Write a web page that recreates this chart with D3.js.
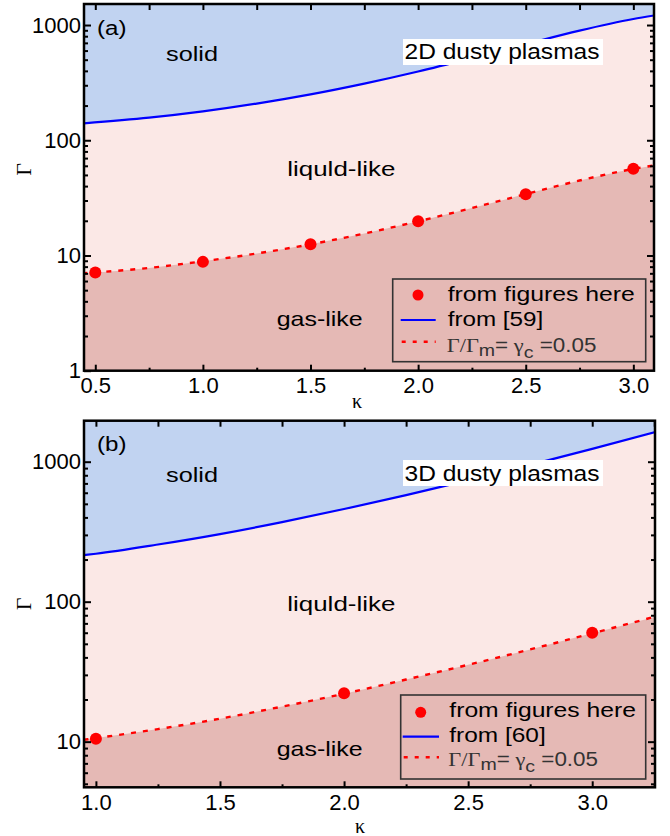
<!DOCTYPE html>
<html><head><meta charset="utf-8">
<script src="https://cdn.jsdelivr.net/npm/d3@7"></script>
<style>
body{margin:0;background:#fff}
svg{display:block}
text{font-family:"Liberation Sans",Arial,Helvetica,sans-serif;fill:#000}
</style>
</head><body>
<svg id="chart" width="670" height="836"></svg>
<script>
// ---------------- data ----------------
const kappa2D      = [0.44, 0.75, 1.0, 1.25, 1.5, 1.75, 2.0, 2.25, 2.5, 2.75, 3.0, 3.1];
const gammaMelt2D  = [140, 157, 178, 208, 250, 310, 395, 516, 682, 894, 1127, 1213];
const gammaGas2D   = [7.0, 7.8, 8.9, 10.4, 12.5, 15.5, 19.8, 25.8, 34.1, 44.7, 56.4, 60.6];
const kappaPts2D   = [0.5, 1.0, 1.5, 2.0, 2.5, 3.0];
const gammaPts2D   = [7.1, 8.8, 12.5, 19.8, 34, 56.5];

const kappa3D      = [0.95, 1.0, 1.25, 1.5, 1.75, 2.0, 2.25, 2.5, 2.75, 3.0, 3.26];
const gammaMelt3D  = [215, 220, 256, 304, 370, 459, 577, 736, 949, 1236, 1642];
const gammaGas3D   = [10.3, 10.6, 12.3, 14.6, 17.8, 22.0, 27.8, 35.4, 45.6, 59.4, 78.8];
const kappaPts3D   = [1.0, 2.0, 3.0];
const gammaPts3D   = [10.5, 22.2, 60];

const xTicks2D = [0.5, 1.0, 1.5, 2.0, 2.5, 3.0];
const xMinor2D = [0.75, 1.25, 1.75, 2.25, 2.75];
const xTicks3D = [1.0, 1.5, 2.0, 2.5, 3.0];
const xMinor3D = [1.25, 1.75, 2.25, 2.75, 3.25];
const yTicks2D = [1, 10, 100, 1000];
const yTicks3D = [10, 100, 1000];

const panelLabels   = ["(a)", "(b)"];
const regionLabels  = ["solid", "liquld-like", "gas-like"];
const titleLabels   = ["2D dusty plasmas", "3D dusty plasmas"];
const legendLabels2D = ["from figures here", "from [59]"];
const legendLabels3D = ["from figures here", "from [60]"];

// ---------------- style ----------------
const C = {
  solid: "#c1d3f1", liquid: "#fbe8e6", gas: "#e5b9b5",
  blue: "#0000ff", red: "#ff0000", axis: "#000", legendBox: "#333"
};

const svg = d3.select("#chart");

function addText(g, x, y, str, size, width, extra) {
  const t = g.append("text").attr("x", x).attr("y", y).text(str)
    .style("font-size", size + "px");
  if (width) t.attr("textLength", width).attr("lengthAdjust", "spacingAndGlyphs");
  if (extra) extra(t);
  return t;
}

function minorLog(domain) {
  const out = [];
  const lo = Math.floor(Math.log10(domain[0])), hi = Math.ceil(Math.log10(domain[1]));
  for (let k = lo; k <= hi; k++) for (let m = 2; m <= 9; m++) {
    const v = m * Math.pow(10, k);
    if (v > domain[0] && v < domain[1]) out.push(v);
  }
  return out;
}

function drawPanel(P) {
  const x = d3.scaleLinear().domain(P.xDomain).range([P.left, P.right]);
  const y = d3.scaleLog().domain(P.yDomain).range([P.bottom, P.top]);
  const g = svg.append("g");
  const clipId = "clip" + P.id;
  svg.append("defs").append("clipPath").attr("id", clipId)
    .append("rect").attr("x", P.left).attr("y", P.top)
    .attr("width", P.right - P.left).attr("height", P.bottom - P.top);

  const plot = g.append("g").attr("clip-path", `url(#${clipId})`);
  plot.append("rect").attr("x", P.left).attr("y", P.top)
    .attr("width", P.right - P.left).attr("height", P.bottom - P.top).attr("fill", C.liquid);

  const melt = P.kappa.map((k, i) => [k, P.melt[i]]);
  const gas = P.kappa.map((k, i) => [k, P.gas[i]]);
  const curve = d3.curveMonotoneX;

  plot.append("path").datum(melt).attr("fill", C.solid)
    .attr("d", d3.area().curve(curve).x(d => x(d[0])).y0(P.top).y1(d => y(d[1])));
  plot.append("path").datum(gas).attr("fill", C.gas)
    .attr("d", d3.area().curve(curve).x(d => x(d[0])).y0(P.bottom).y1(d => y(d[1])));
  plot.append("path").datum(melt).attr("fill", "none").attr("stroke", C.blue).attr("stroke-width", 2.2)
    .attr("d", d3.line().curve(curve).x(d => x(d[0])).y(d => y(d[1])));
  plot.append("path").datum(gas).attr("fill", "none").attr("stroke", C.red).attr("stroke-width", 2.4)
    .attr("stroke-dasharray", "5,7")
    .attr("d", d3.line().curve(curve).x(d => x(d[0])).y(d => y(d[1])));
  plot.selectAll("circle.pt").data(P.ptsK).join("circle").attr("class", "pt")
    .attr("cx", d => x(d)).attr("cy", (d, i) => y(P.ptsG[i])).attr("r", 6).attr("fill", C.red);

  // title box
  g.append("rect").attr("x", P.title.bx).attr("y", P.title.by).attr("width", 200).attr("height", 26).attr("fill", "#fff");
  addText(g, P.title.x, P.title.y, P.titleText, 22, 195);
  addText(g, 97, P.labY.panel, P.panelText, 20, 29.5);
  addText(g, 166, P.labY.solid, regionLabels[0], 20, 52);
  addText(g, 287.3, P.labY.liquid, regionLabels[1], 21, 108);
  addText(g, 276.7, P.labY.gas, regionLabels[2], 21, 86);

  // legend
  const L = P.legend;
  g.append("rect").attr("x", L.x).attr("y", L.y).attr("width", L.w).attr("height", L.h)
    .attr("fill", "none").attr("stroke", C.legendBox).attr("stroke-width", 1.6);
  g.append("circle").attr("cx", L.dotX).attr("cy", L.rows[0]).attr("r", 5.5).attr("fill", C.red);
  g.append("line").attr("x1", L.lx1).attr("x2", L.lx2).attr("y1", L.rows[1]).attr("y2", L.rows[1])
    .attr("stroke", C.blue).attr("stroke-width", 2.2);
  g.append("line").attr("x1", L.lx1 + 1).attr("x2", L.lx2).attr("y1", L.rows[2]).attr("y2", L.rows[2])
    .attr("stroke", C.red).attr("stroke-width", 2.4).attr("stroke-dasharray", "4,7");
  addText(g, L.tx, L.base[0], P.legendText[0], 19.5, L.w0);
  addText(g, L.tx, L.base[1], P.legendText[1], 19.5, L.w1);
  const t3 = g.append("text").attr("transform", `translate(${L.tx - 1},${L.base[2]}) scale(1.15,1)`)
    .style("font-size", "19.5px").style("fill", "#333");
  const serif = "'Liberation Serif','Times New Roman',serif";
  t3.append("tspan").text("\u0393/\u0393").style("font-family", serif).style("fill", "#333");
  t3.append("tspan").text("m").attr("dy", 4).style("font-size", "17px").style("fill", "#333");
  t3.append("tspan").text("=").attr("dy", -4).style("fill", "#333");
  t3.append("tspan").text(" \u03b3").style("font-family", serif).style("fill", "#333");
  t3.append("tspan").text("c").attr("dy", 6).style("font-size", "17px").style("fill", "#333");
  t3.append("tspan").text(" =0.05").attr("dy", -6).style("fill", "#333");

  // axes
  const ax = g.append("g");
  const fmtX = d3.format(".1f");
  ax.append("g").attr("transform", `translate(0,${P.bottom})`)
    .call(d3.axisBottom(x).tickValues(P.xTicks).tickSize(-6).tickPadding(7).tickFormat(fmtX));
  ax.append("g").attr("transform", `translate(0,${P.bottom})`)
    .call(d3.axisBottom(x).tickValues(P.xMinor).tickSize(-3).tickFormat(""));
  ax.append("g").attr("transform", `translate(0,${P.top})`)
    .call(d3.axisTop(x).tickValues(P.xTicks.concat(P.xMinor)).tickSize(-6).tickFormat(""));
  ax.append("g").attr("transform", `translate(${P.left},0)`)
    .call(d3.axisLeft(y).tickValues(P.yTicks).tickSize(-7).tickPadding(3).tickFormat(d3.format("d")));
  ax.append("g").attr("transform", `translate(${P.left},0)`)
    .call(d3.axisLeft(y).tickValues(minorLog(P.yDomain)).tickSize(-4).tickFormat(""));
  ax.append("g").attr("transform", `translate(${P.right},0)`)
    .call(d3.axisRight(y).tickValues(P.yTicks.filter(v => v > P.yDomain[0])).tickSize(-7).tickFormat(""));
  ax.append("g").attr("transform", `translate(${P.right},0)`)
    .call(d3.axisRight(y).tickValues(minorLog(P.yDomain)).tickSize(-4).tickFormat(""));
  ax.selectAll(".domain").remove();
  ax.selectAll(".tick line").attr("stroke", C.axis).attr("stroke-width", 2);
  ax.selectAll(".tick text").style("font-size", "22px").style("font-family", "'Liberation Sans',Arial,sans-serif").attr("fill", "#000");
  g.append("rect").attr("x", P.left).attr("y", P.top).attr("width", P.right - P.left)
    .attr("height", P.bottom - P.top).attr("fill", "none").attr("stroke", C.axis).attr("stroke-width", 2.5);

  // axis titles
  g.append("text").attr("transform", `translate(31,${P.gammaY}) rotate(-90)`).attr("text-anchor", "middle")
    .style("font-family", serif).style("font-size", "22px").text("\u0393");
  g.append("text").attr("x", P.kappaX).attr("y", P.kappaY).attr("text-anchor", "middle")
    .style("font-family", serif).style("font-size", "20px").text("\u03ba");
}

drawPanel({
  id: "a", left: 84, right: 654, top: 4, bottom: 370.7,
  xDomain: [0.4475, 3.096], yDomain: [1, 1522],
  kappa: kappa2D, melt: gammaMelt2D, gas: gammaGas2D, ptsK: kappaPts2D, ptsG: gammaPts2D,
  xTicks: xTicks2D, xMinor: xMinor2D, yTicks: yTicks2D,
  titleText: titleLabels[0], panelText: panelLabels[0], legendText: legendLabels2D,
  title: { bx: 403, by: 39, x: 404.5, y: 58.5 },
  labY: { panel: 35, solid: 61, liquid: 176, gas: 325.7 },
  legend: { x: 392.7, y: 279, w: 253, h: 82.7, dotX: 418, lx1: 400.7, lx2: 435.7,
            rows: [295, 320, 341.7], tx: 447.7, base: [300.7, 326.2, 351.7], w0: 187, w1: 95.6 },
  gammaY: 169.5, kappaX: 357, kappaY: 408
});

drawPanel({
  id: "b", left: 84, right: 655, top: 420.7, bottom: 787.3,
  xDomain: [0.952, 3.253], yDomain: [4.72, 1963],
  kappa: kappa3D, melt: gammaMelt3D, gas: gammaGas3D, ptsK: kappaPts3D, ptsG: gammaPts3D,
  xTicks: xTicks3D, xMinor: xMinor3D, yTicks: yTicks3D,
  titleText: titleLabels[1], panelText: panelLabels[1], legendText: legendLabels3D,
  title: { bx: 403, by: 460, x: 404.5, y: 481 },
  labY: { panel: 451, solid: 481.7, liquid: 611, gas: 755.5 },
  legend: { x: 400.7, y: 695, w: 245, h: 84, dotX: 420.7, lx1: 402.7, lx2: 439,
            rows: [712.3, 736.7, 757.3], tx: 449.3, base: [717.3, 741.7, 766], w0: 186.7, w1: 96.4 },
  gammaY: 604, kappaX: 360, kappaY: 833
});
</script>
</body></html>
